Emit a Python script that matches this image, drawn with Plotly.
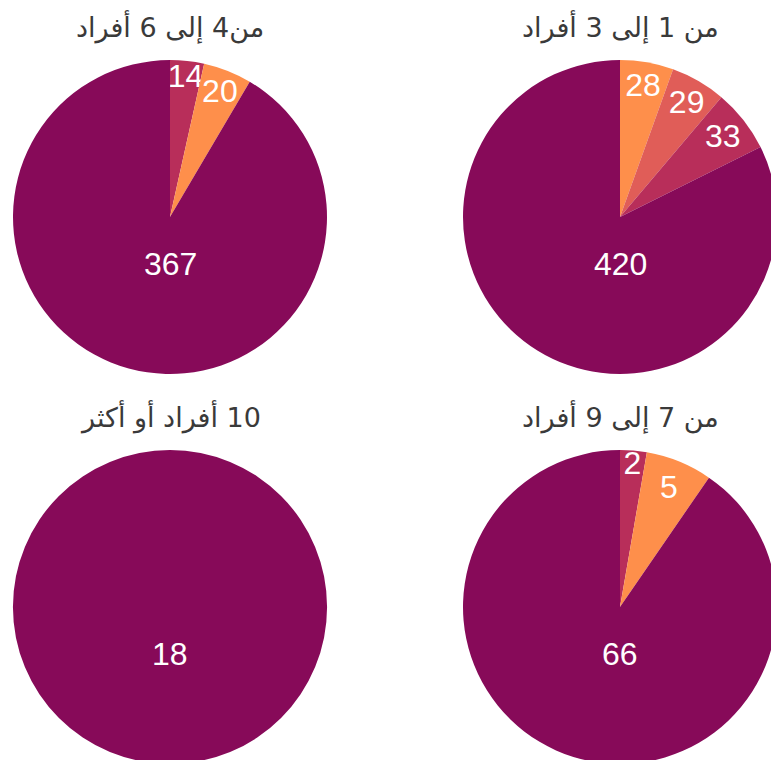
import plotly.graph_objects as go

# categories (slice colours) and group titles
categories = ["الفئة أ", "الفئة ب", "الفئة ج", "الفئة د"]
colors = ["#FE8F4B", "#E05D58", "#B82E5A", "#870A59"]
groups = ["من 1 إلى 3 أفراد", "من4 إلى 6 أفراد", "من 7 إلى 9 أفراد", "\u200f10 أفراد أو أكثر"]

# values per group, in category order (0 = absent)
g1_values = [28, 29, 33, 420]
g2_values = [20, 0, 14, 367]
g3_values = [5, 0, 2, 66]
g4_values = [0, 0, 0, 18]
all_values = [g1_values, g2_values, g3_values, g4_values]

# the pies on the right run a little past the window edge, like the original
W, H = 778, 765
R = 157
# pie centres in pixels (right-to-left reading order)
centres = [(620, 217), (170, 217), (620, 607), (170, 607)]

fig = go.Figure()
for name, vals, (cx, cy) in zip(groups, all_values, centres):
    rows = sorted([(v, c, col) for v, c, col in zip(vals, categories, colors) if v > 0])
    big = max(r[0] for r in rows)
    fig.add_trace(go.Pie(
        values=[r[0] for r in rows],
        labels=[r[1] for r in rows],
        # the dominant slice gets its label below the centre (annotation)
        text=["" if r[0] == big else str(r[0]) for r in rows],
        textinfo="text",
        marker=dict(colors=[r[2] for r in rows], line=dict(width=0)),
        sort=False,
        direction="clockwise",
        rotation=0,
        textposition="inside",
        insidetextorientation="horizontal",
        textfont=dict(family="Liberation Sans, Arial", size=32, color="white"),
        domain=dict(x=[(cx - R) / W, (cx + R) / W], y=[1 - (cy + R) / H, 1 - (cy - R) / H]),
        name=name,
        showlegend=False,
    ))
    fig.add_annotation(
        text=str(big), x=cx / W, y=1 - (cy + 0.3 * R) / H,
        xref="paper", yref="paper", showarrow=False,
        xanchor="center", yanchor="middle",
        font=dict(family="Liberation Sans, Arial", size=32, color="white"),
    )
    fig.add_annotation(
        text=name, x=cx / W, y=1 - (cy - R - 33) / H,
        xref="paper", yref="paper", showarrow=False,
        xanchor="center", yanchor="middle",
        font=dict(family="DejaVu Sans", size=27, color="#3a3a3a"),
    )

fig.update_layout(
    width=W, height=H,
    margin=dict(l=0, r=0, t=0, b=0),
    paper_bgcolor="white",
    uniformtext=dict(minsize=32, mode="show"),
)

fig.write_html(
    "out.html",
    config={"displayModeBar": False},
    post_script="document.body.style.margin='0';document.body.style.overflow='hidden';",
)
